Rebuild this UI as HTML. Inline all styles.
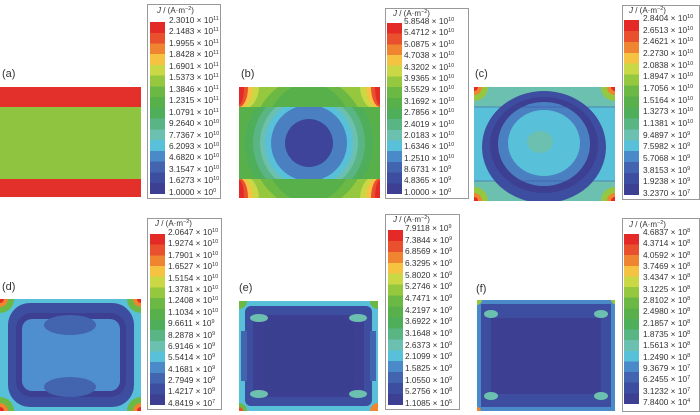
<!DOCTYPE html>
<html><head><meta charset="utf-8"><style>
body{margin:0;width:700px;height:415px;background:#fff;position:relative;overflow:hidden;font-family:"Liberation Sans",sans-serif;color:#333}
.pl{position:absolute;font-size:11px}
.lg{position:absolute;border:1px solid #999;background:#fff}
.cb{position:absolute;background:linear-gradient(to bottom,#e42a26 0 6.25%,#e8502e 6.25% 12.5%,#ef8531 12.5% 18.75%,#f5c242 18.75% 25%,#c9d844 25% 31.25%,#95c83f 31.25% 37.5%,#6bb944 37.5% 43.75%,#58b04a 43.75% 50%,#4fae5a 50% 56.25%,#5ab585 56.25% 62.5%,#6cc0b0 62.5% 68.75%,#58c0d8 68.75% 75%,#4a8ac8 75% 81.25%,#4365b0 81.25% 87.5%,#3d4da0 87.5% 93.75%,#3c3f92 93.75% 100%)}
.tt{position:absolute;font-size:8px;white-space:nowrap}
.lb{position:absolute;display:flex;flex-direction:column;justify-content:space-between;font-size:8.3px;line-height:10px;white-space:nowrap}
sup{font-size:5.5px;position:relative;top:-3px;vertical-align:baseline;line-height:0}
svg{position:absolute}
</style></head><body>

<div class="pl" style="left:2px;top:68px">(a)</div>
<div class="pl" style="left:241px;top:68px">(b)</div>
<div class="pl" style="left:475px;top:68px">(c)</div>
<div class="pl" style="left:2px;top:281px">(d)</div>
<div class="pl" style="left:239px;top:282px">(e)</div>
<div class="pl" style="left:476px;top:283px">(f)</div>

<svg style="left:0;top:87px" width="141" height="110"><rect width="141" height="110" fill="#8fc440"/><rect width="141" height="20" fill="#e4302a"/><rect y="92" width="141" height="18" fill="#e4302a"/></svg>

<svg style="left:239px;top:87px" width="141" height="111" viewBox="0 0 141 111">
<defs><clipPath id="bm"><rect x="0" y="20" width="141" height="72"/></clipPath><clipPath id="bt"><rect x="0" y="0" width="141" height="20"/><rect x="0" y="92" width="141" height="19"/></clipPath></defs>
<rect width="141" height="111" fill="#6bb944"/>
<g clip-path="url(#bt)">
<rect width="141" height="111" fill="#95c83f"/>
<ellipse cx="70" cy="56" rx="58" ry="66" fill="#6bb944"/>
<ellipse cx="70" cy="56" rx="46" ry="60" fill="#58b04a"/>
<ellipse cx="0" cy="0" rx="20" ry="24" fill="#c9d844"/><ellipse cx="141" cy="0" rx="20" ry="24" fill="#c9d844"/><ellipse cx="0" cy="111" rx="20" ry="24" fill="#c9d844"/><ellipse cx="141" cy="111" rx="20" ry="24" fill="#c9d844"/>
<ellipse cx="0" cy="0" rx="14" ry="22" fill="#f5c242"/><ellipse cx="141" cy="0" rx="14" ry="22" fill="#f5c242"/><ellipse cx="0" cy="111" rx="14" ry="22" fill="#f5c242"/><ellipse cx="141" cy="111" rx="14" ry="22" fill="#f5c242"/>
<ellipse cx="0" cy="0" rx="9" ry="20" fill="#e8502e"/><ellipse cx="141" cy="0" rx="9" ry="20" fill="#e8502e"/><ellipse cx="0" cy="111" rx="9" ry="20" fill="#e8502e"/><ellipse cx="141" cy="111" rx="9" ry="20" fill="#e8502e"/>
<ellipse cx="0" cy="0" rx="5" ry="18" fill="#e42a26"/><ellipse cx="141" cy="0" rx="5" ry="18" fill="#e42a26"/><ellipse cx="0" cy="111" rx="5" ry="18" fill="#e42a26"/><ellipse cx="141" cy="111" rx="5" ry="18" fill="#e42a26"/>
</g>
<g clip-path="url(#bm)">
<rect width="141" height="111" fill="#58b04a"/>
<circle cx="70" cy="56" r="64" fill="#4fae5a"/>
<circle cx="70" cy="56" r="56" fill="#5ab585"/>
<circle cx="70" cy="56" r="49" fill="#6cc0b0"/>
<circle cx="70" cy="56" r="44" fill="#58c0d8"/>
<circle cx="70" cy="56" r="38" fill="#4a80c2"/>
<circle cx="70" cy="56" r="24" fill="#3d449a"/>
</g>
</svg>

<svg style="left:474px;top:87px" width="141" height="114" viewBox="0 0 141 114">
<rect width="141" height="114" fill="#58c0d8"/>
<rect y="0" width="141" height="20" fill="#6cc0b0"/><rect y="94" width="141" height="20" fill="#6cc0b0"/>
<circle cx="0" cy="0" r="14" fill="#95c83f"/><circle cx="141" cy="0" r="14" fill="#95c83f"/><circle cx="0" cy="114" r="14" fill="#95c83f"/><circle cx="141" cy="114" r="14" fill="#95c83f"/>
<circle cx="0" cy="0" r="8" fill="#ef8531"/><circle cx="141" cy="0" r="8" fill="#ef8531"/><circle cx="0" cy="114" r="8" fill="#ef8531"/><circle cx="141" cy="114" r="8" fill="#ef8531"/>
<circle cx="0" cy="0" r="4" fill="#e42a26"/><circle cx="141" cy="0" r="4" fill="#e42a26"/><circle cx="0" cy="114" r="4" fill="#e42a26"/><circle cx="141" cy="114" r="4" fill="#e42a26"/>
<ellipse cx="70" cy="60" rx="62" ry="56" fill="#3d4da0"/>
<ellipse cx="70" cy="58" rx="54" ry="48" fill="#3c3f92"/>
<ellipse cx="70" cy="57" rx="46" ry="42" fill="#4a80c2"/>
<ellipse cx="70" cy="56" rx="36" ry="33" fill="#58c0d8"/>
<ellipse cx="66" cy="55" rx="13" ry="11" fill="#6cc0b0"/>
<line x1="0" y1="20" x2="141" y2="20" stroke="#3d4da0" stroke-width="0.6"/><line x1="0" y1="94" x2="141" y2="94" stroke="#3d4da0" stroke-width="0.6"/>
</svg>

<svg style="left:0;top:299px" width="141" height="112" viewBox="0 0 141 112">
<rect width="141" height="112" fill="#58c0d8"/>
<circle cx="0" cy="0" r="14" fill="#6bb944"/><circle cx="141" cy="0" r="14" fill="#6bb944"/><circle cx="0" cy="112" r="14" fill="#6bb944"/><circle cx="141" cy="112" r="14" fill="#6bb944"/>
<circle cx="0" cy="0" r="8" fill="#ef8531"/><circle cx="141" cy="0" r="8" fill="#ef8531"/><circle cx="0" cy="112" r="8" fill="#ef8531"/><circle cx="141" cy="112" r="8" fill="#ef8531"/>
<circle cx="0" cy="0" r="4" fill="#e42a26"/><circle cx="141" cy="0" r="4" fill="#e42a26"/><circle cx="0" cy="112" r="4" fill="#e42a26"/><circle cx="141" cy="112" r="4" fill="#e42a26"/>
<rect x="8" y="4" width="126" height="104" rx="22" fill="#3d4da0"/>
<rect x="16" y="14" width="110" height="84" rx="16" fill="#3c3f92"/>
<rect x="22" y="20" width="98" height="72" rx="10" fill="#4f8fcf"/>
<ellipse cx="70" cy="26" rx="26" ry="10" fill="#4365b0"/>
<ellipse cx="70" cy="88" rx="26" ry="10" fill="#4365b0"/>
</svg>

<svg style="left:239px;top:301px" width="139" height="110" viewBox="0 0 139 110">
<rect width="139" height="110" fill="#58c0d8"/>
<circle cx="0" cy="0" r="8" fill="#6bb944"/><circle cx="139" cy="0" r="8" fill="#6bb944"/><circle cx="0" cy="110" r="8" fill="#6bb944"/><circle cx="139" cy="110" r="8" fill="#ef8531"/><circle cx="0" cy="110" r="4" fill="#e8502e"/>
<rect x="6" y="5" width="127" height="100" rx="6" fill="#3d4da0"/>
<rect x="14" y="14" width="111" height="82" rx="4" fill="#3c3f92"/>
<rect x="24" y="17" width="91" height="76" rx="16" fill="#3b3f90"/>
<ellipse cx="20" cy="17" rx="9" ry="4" fill="#6cc0b0"/><ellipse cx="119" cy="17" rx="9" ry="4" fill="#6cc0b0"/>
<ellipse cx="20" cy="93" rx="9" ry="4" fill="#6cc0b0"/><ellipse cx="119" cy="93" rx="9" ry="4" fill="#6cc0b0"/>
<rect x="2" y="30" width="6" height="50" fill="#4365b0"/><rect x="131" y="30" width="6" height="50" fill="#4365b0"/>
</svg>

<svg style="left:477px;top:300px" width="138" height="111" viewBox="0 0 138 111">
<rect width="138" height="111" fill="#4a8ac8"/>
<rect x="4" y="4" width="130" height="103" fill="#3d4da0"/>
<rect x="14" y="18" width="110" height="76" fill="#3c3f92"/>
<ellipse cx="14" cy="14" rx="7" ry="4" fill="#6cc0b0"/><ellipse cx="124" cy="14" rx="7" ry="4" fill="#6cc0b0"/>
<ellipse cx="14" cy="96" rx="7" ry="4" fill="#6cc0b0"/><ellipse cx="124" cy="96" rx="7" ry="4" fill="#6cc0b0"/>
<circle cx="0" cy="111" r="4" fill="#ef8531"/><circle cx="0" cy="0" r="5" fill="#95c83f"/><circle cx="138" cy="0" r="4" fill="#95c83f"/>
</svg>

<div class="lg" style="left:147px;top:4px;width:72px;height:193px"></div>
<div class="tt" style="left:157px;top:6px"><i>J</i> / (A·m<sup>−2</sup>)</div>
<div class="cb" style="left:150px;top:22px;width:15px;height:172px"></div>
<div class="lb" style="left:169px;top:15px;height:182px">
<div>2.3010 × 10<sup>11</sup></div><div>2.1483 × 10<sup>11</sup></div><div>1.9955 × 10<sup>11</sup></div><div>1.8428 × 10<sup>11</sup></div><div>1.6901 × 10<sup>11</sup></div><div>1.5373 × 10<sup>11</sup></div><div>1.3846 × 10<sup>11</sup></div><div>1.2315 × 10<sup>11</sup></div><div>1.0791 × 10<sup>11</sup></div><div>9.2640 × 10<sup>10</sup></div><div>7.7367 × 10<sup>10</sup></div><div>6.2093 × 10<sup>10</sup></div><div>4.6820 × 10<sup>10</sup></div><div>3.1547 × 10<sup>10</sup></div><div>1.6273 × 10<sup>10</sup></div><div>1.0000 × 10<sup>0</sup></div></div>

<div class="lg" style="left:385px;top:8px;width:82px;height:189px"></div>
<div class="tt" style="left:393px;top:9px"><i>J</i> / (A·m<sup>−2</sup>)</div>
<div class="cb" style="left:387px;top:23px;width:15px;height:171px"></div>
<div class="lb" style="left:404px;top:16px;height:181px">
<div>5.8548 × 10<sup>10</sup></div><div>5.4712 × 10<sup>10</sup></div><div>5.0875 × 10<sup>10</sup></div><div>4.7038 × 10<sup>10</sup></div><div>4.3202 × 10<sup>10</sup></div><div>3.9365 × 10<sup>10</sup></div><div>3.5529 × 10<sup>10</sup></div><div>3.1692 × 10<sup>10</sup></div><div>2.7856 × 10<sup>10</sup></div><div>2.4019 × 10<sup>10</sup></div><div>2.0183 × 10<sup>10</sup></div><div>1.6346 × 10<sup>10</sup></div><div>1.2510 × 10<sup>10</sup></div><div>8.6731 × 10<sup>9</sup></div><div>4.8365 × 10<sup>9</sup></div><div>1.0000 × 10<sup>0</sup></div></div>

<div class="lg" style="left:622px;top:5px;width:76px;height:193px"></div>
<div class="tt" style="left:629px;top:6px"><i>J</i> / (A·m<sup>−2</sup>)</div>
<div class="cb" style="left:624px;top:20px;width:15px;height:175px"></div>
<div class="lb" style="left:643px;top:13px;height:185px">
<div>2.8404 × 10<sup>10</sup></div><div>2.6513 × 10<sup>10</sup></div><div>2.4621 × 10<sup>10</sup></div><div>2.2730 × 10<sup>10</sup></div><div>2.0838 × 10<sup>10</sup></div><div>1.8947 × 10<sup>10</sup></div><div>1.7056 × 10<sup>10</sup></div><div>1.5164 × 10<sup>10</sup></div><div>1.3273 × 10<sup>10</sup></div><div>1.1381 × 10<sup>10</sup></div><div>9.4897 × 10<sup>9</sup></div><div>7.5982 × 10<sup>9</sup></div><div>5.7068 × 10<sup>9</sup></div><div>3.8153 × 10<sup>9</sup></div><div>1.9238 × 10<sup>9</sup></div><div>3.2370 × 10<sup>7</sup></div></div>

<div class="lg" style="left:147px;top:218px;width:73px;height:190px"></div>
<div class="tt" style="left:155px;top:219px"><i>J</i> / (A·m<sup>−2</sup>)</div>
<div class="cb" style="left:150px;top:234px;width:15px;height:171px"></div>
<div class="lb" style="left:168px;top:227px;height:181px">
<div>2.0647 × 10<sup>10</sup></div><div>1.9274 × 10<sup>10</sup></div><div>1.7901 × 10<sup>10</sup></div><div>1.6527 × 10<sup>10</sup></div><div>1.5154 × 10<sup>10</sup></div><div>1.3781 × 10<sup>10</sup></div><div>1.2408 × 10<sup>10</sup></div><div>1.1034 × 10<sup>10</sup></div><div>9.6611 × 10<sup>9</sup></div><div>8.2878 × 10<sup>9</sup></div><div>6.9146 × 10<sup>9</sup></div><div>5.5414 × 10<sup>9</sup></div><div>4.1681 × 10<sup>9</sup></div><div>2.7949 × 10<sup>9</sup></div><div>1.4217 × 10<sup>9</sup></div><div>4.8419 × 10<sup>7</sup></div></div>

<div class="lg" style="left:385px;top:214px;width:73px;height:194px"></div>
<div class="tt" style="left:393px;top:215px"><i>J</i> / (A·m<sup>−2</sup>)</div>
<div class="cb" style="left:388px;top:230px;width:15px;height:175px"></div>
<div class="lb" style="left:405px;top:223px;height:185px">
<div>7.9118 × 10<sup>9</sup></div><div>7.3844 × 10<sup>9</sup></div><div>6.8569 × 10<sup>9</sup></div><div>6.3295 × 10<sup>9</sup></div><div>5.8020 × 10<sup>9</sup></div><div>5.2746 × 10<sup>9</sup></div><div>4.7471 × 10<sup>9</sup></div><div>4.2197 × 10<sup>9</sup></div><div>3.6922 × 10<sup>9</sup></div><div>3.1648 × 10<sup>9</sup></div><div>2.6373 × 10<sup>9</sup></div><div>2.1099 × 10<sup>9</sup></div><div>1.5825 × 10<sup>9</sup></div><div>1.0550 × 10<sup>9</sup></div><div>5.2756 × 10<sup>8</sup></div><div>1.1085 × 10<sup>5</sup></div></div>

<div class="lg" style="left:622px;top:218px;width:76px;height:192px"></div>
<div class="tt" style="left:629px;top:220px"><i>J</i> / (A·m<sup>−2</sup>)</div>
<div class="cb" style="left:624px;top:234px;width:15px;height:170px"></div>
<div class="lb" style="left:643px;top:227px;height:180px">
<div>4.6837 × 10<sup>8</sup></div><div>4.3714 × 10<sup>8</sup></div><div>4.0592 × 10<sup>8</sup></div><div>3.7469 × 10<sup>8</sup></div><div>3.4347 × 10<sup>8</sup></div><div>3.1225 × 10<sup>8</sup></div><div>2.8102 × 10<sup>8</sup></div><div>2.4980 × 10<sup>8</sup></div><div>2.1857 × 10<sup>8</sup></div><div>1.8735 × 10<sup>8</sup></div><div>1.5613 × 10<sup>8</sup></div><div>1.2490 × 10<sup>8</sup></div><div>9.3679 × 10<sup>7</sup></div><div>6.2455 × 10<sup>7</sup></div><div>3.1232 × 10<sup>7</sup></div><div>7.8400 × 10<sup>4</sup></div></div>

</body></html>
